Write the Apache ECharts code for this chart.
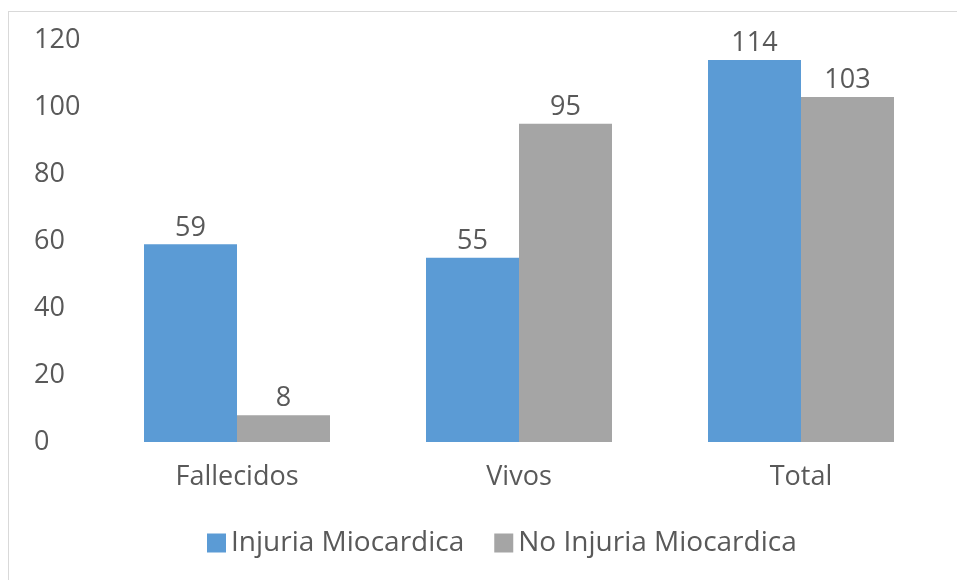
<!DOCTYPE html>
<html>
<head>
<meta charset="utf-8">
<script src="https://cdn.jsdelivr.net/npm/echarts@6/dist/echarts.min.js"></script>
<style>
  html, body { margin: 0; padding: 0; background: #fff; }
  #frame { position: absolute; left: 8px; top: 11px; width: 960px; height: 580px; border: 1px solid #d9d9d9; }
  #chart { position: absolute; left: 0; top: 0; width: 957px; height: 580px; }
</style>
</head>
<body>
<div id="frame"></div>
<div id="chart"></div>
<script>
  // categorias y valores
  const categories = ['Fallecidos', 'Vivos', 'Total'];
  const injuria = [59, 55, 114];
  const noInjuria = [8, 95, 103];
  const seriesNames = ['Injuria Miocardica', 'No Injuria Miocardica'];

  const font = '"Open Sans", sans-serif';
  const txt = '#595959';

  let chart = echarts.init(document.getElementById('chart'));
  chart.setOption({
    animation: false,
    color: ['#5b9bd5', '#a5a5a5'],
    grid: { left: 96, right: 15, top: 40, bottom: 138 },
    legend: {
      data: seriesNames,
      bottom: 18,
      left: 202,
      icon: 'rect',
      itemWidth: 19,
      itemHeight: 19,
      itemGap: 30,
      textStyle: { color: txt, fontSize: 28, fontFamily: font }
    },
    xAxis: {
      type: 'category',
      data: categories,
      axisLine: { show: false },
      axisTick: { show: false },
      axisLabel: { color: txt, fontSize: 27, fontFamily: font, margin: 22 }
    },
    yAxis: {
      type: 'value',
      min: 0,
      max: 120,
      interval: 20,
      splitLine: { show: false },
      axisLabel: { color: txt, fontSize: 27, fontFamily: font, align: 'left', margin: 62 }
    },
    series: [
      {
        name: seriesNames[0],
        type: 'bar',
        data: injuria,
        barWidth: 93,
        barGap: '0%',
        label: { show: true, position: 'top', color: txt, fontSize: 27, fontFamily: font, distance: 3 }
      },
      {
        name: seriesNames[1],
        type: 'bar',
        data: noInjuria,
        barWidth: 93,
        barGap: '0%',
        label: { show: true, position: 'top', color: txt, fontSize: 27, fontFamily: font, distance: 3 }
      }
    ]
  });
</script>
</body>
</html>
